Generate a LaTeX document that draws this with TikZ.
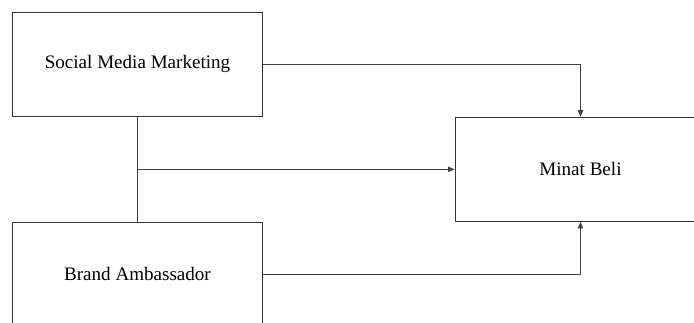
\documentclass[tikz,border=0pt]{standalone}
\usepackage{fontspec}
\setmainfont{Liberation Serif}
\usetikzlibrary{arrows.meta}
\begin{document}
\begin{tikzpicture}[x=0.75pt, y=-0.75pt, >={Triangle[length=5pt, width=4pt]},
    box/.style={draw=black!80, line width=0.7pt, minimum width=188pt, minimum height=78pt, inner sep=0pt, font=\fontsize{14.3pt}{16pt}\selectfont},
    link/.style={draw=black!75, line width=0.7pt}]
    \useasboundingbox (0,0) rectangle (694,322);
    \clip (0,0) rectangle (694,322);
    \node[box] (smm) at (137.5,64) {Social Media Marketing};
    \node[box] (ba) at (137.5,274) {Brand Ambassador};
    \node[box] (mb) at (580.5,169.3) {Minat Beli};
    \coordinate (junc) at (137.5,169.3);
    \draw[link] (smm.south) -- (ba.north);
    \draw[link, ->] (smm.east) -| (mb.north);
    \draw[link, ->] (junc) -- (mb.west);
    \draw[link, ->] (ba.east) -| (mb.south);
\end{tikzpicture}
\end{document}
